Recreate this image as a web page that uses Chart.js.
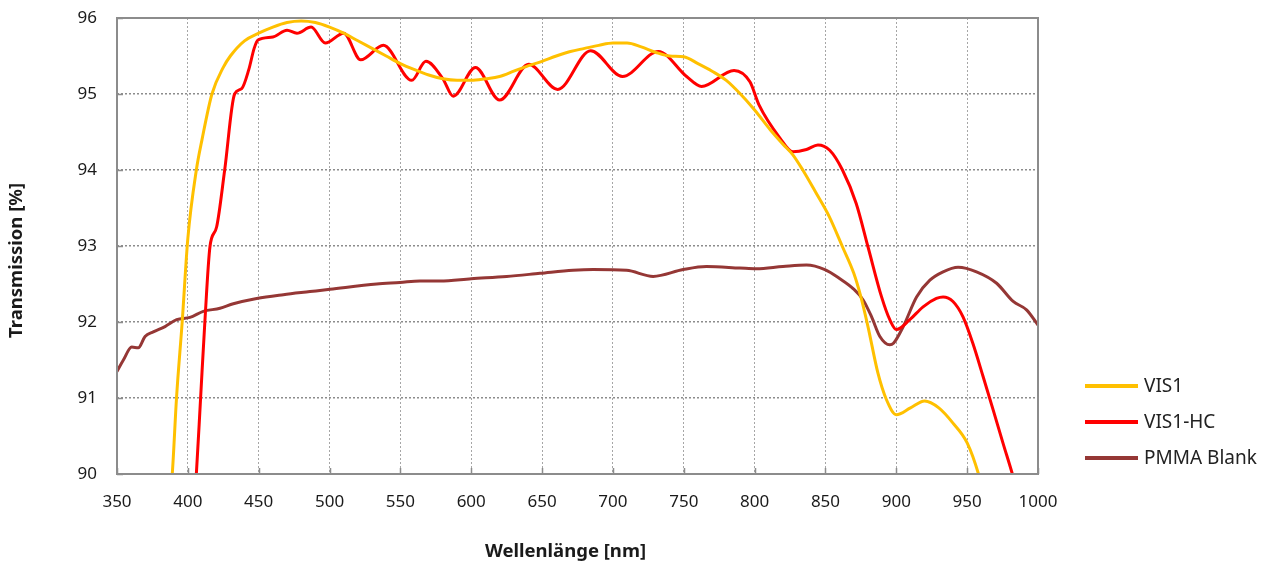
<!DOCTYPE html>
<html>
<head>
<meta charset="utf-8">
<script src="https://cdn.jsdelivr.net/npm/chart.js@4"></script>
<style>
    html, body { margin: 0; padding: 0; background: #fff; }
    #wrap { position: relative; width: 1265px; height: 564px; }
    #legend { position: absolute; left: 1085px; top: 367px; font-family: "Noto Sans", sans-serif; font-size: 19px; color: #222; }
    #legend div { height: 36px; line-height: 36px; white-space: nowrap; }
    #legend span.line { display: inline-block; width: 53px; height: 4px; margin-right: 6px; vertical-align: middle; position: relative; top: -1px; }
</style>
</head>
<body>
<div id="wrap">
    <canvas id="chart" width="1265" height="564"></canvas>
    <div id="legend"></div>
</div>
<script>
// wavelength [nm] and transmission [%]
let vis1Nm = [385, 389, 392, 396, 400, 406, 410, 417, 425, 430, 440, 450, 460, 470, 480, 490, 500, 510, 520, 530, 540, 550, 560, 570, 580, 590, 600, 610, 620, 630, 640, 650, 660, 670, 680, 690, 700, 710, 720, 730, 740, 750, 760, 770, 780, 790, 800, 811, 820, 827, 834, 843, 852.6, 862, 870, 875, 880, 887, 893, 900, 910, 920, 930, 940, 950, 958, 962];
let vis1T = [89.3, 90.0, 91.0, 92.0, 93.1, 94.0, 94.4, 95.0, 95.35, 95.5, 95.7, 95.8, 95.88, 95.94, 95.96, 95.94, 95.88, 95.8, 95.7, 95.6, 95.5, 95.4, 95.32, 95.25, 95.2, 95.18, 95.18, 95.2, 95.23, 95.3, 95.37, 95.43, 95.5, 95.56, 95.6, 95.64, 95.67, 95.67, 95.62, 95.55, 95.5, 95.49, 95.4, 95.3, 95.18, 95.0, 94.79, 94.53, 94.34, 94.2, 94.0, 93.71, 93.39, 92.99, 92.64, 92.33, 91.94, 91.33, 90.98, 90.78, 90.87, 90.96, 90.87, 90.67, 90.41, 90.0, 89.7];

let hcNm = [403, 406, 409, 412, 415.6, 420.3, 426, 433, 438, 443, 446.8, 449.5, 460, 470, 477, 487, 497, 510, 522, 538, 558, 568, 580, 587.3, 603, 620, 640.6, 661, 684.3, 706.7, 732, 752, 762.5, 785.5, 796.7, 803, 817.9, 827, 836.6, 844.7, 853, 862, 871.7, 880, 889.6, 895.4, 900.1, 909.5, 918.9, 928.3, 933, 940, 947, 954, 961.3, 968.4, 975.4, 982.5, 986];
let hcT = [89.3, 90.0, 91.0, 92.0, 92.99, 93.25, 94.0, 95.0, 95.07, 95.32, 95.6, 95.71, 95.75, 95.84, 95.8, 95.88, 95.67, 95.8, 95.45, 95.64, 95.18, 95.43, 95.2, 94.97, 95.35, 94.92, 95.39, 95.06, 95.57, 95.23, 95.56, 95.23, 95.1, 95.31, 95.16, 94.86, 94.42, 94.24, 94.27, 94.33, 94.26, 94.0, 93.56, 92.99, 92.33, 92.03, 91.9, 92.03, 92.2, 92.31, 92.33, 92.27, 92.07, 91.72, 91.28, 90.84, 90.4, 89.96, 89.7];

let pmmaNm = [350, 354.5, 360.4, 365, 369.8, 375.6, 383.9, 392.1, 401.5, 410.9, 422.7, 432.1, 448.6, 467.4, 486.2, 500.3, 533.3, 549.7, 563.8, 578, 600, 625, 648.5, 671.8, 686, 709.6, 728.4, 749.6, 766, 789.6, 801.3, 820, 836.6, 849.6, 860.2, 869.5, 876.6, 882.5, 888.4, 895.4, 898, 904.9, 914.3, 923.7, 933, 943.6, 956.6, 970.8, 982.5, 991.9, 1000];
let pmmaT = [91.35, 91.5, 91.67, 91.66, 91.81, 91.87, 91.94, 92.03, 92.06, 92.14, 92.18, 92.24, 92.31, 92.36, 92.4, 92.43, 92.5, 92.52, 92.54, 92.54, 92.57, 92.6, 92.64, 92.68, 92.69, 92.68, 92.6, 92.69, 92.73, 92.71, 92.7, 92.73, 92.75, 92.69, 92.57, 92.44, 92.29, 92.07, 91.81, 91.7, 91.72, 91.94, 92.33, 92.55, 92.66, 92.72, 92.66, 92.51, 92.27, 92.16, 91.96];

let seriesNames = ["VIS1", "VIS1-HC", "PMMA Blank"];
let seriesColors = ["#FFC000", "#FF0000", "#953735"];

let xTicks = [350, 400, 450, 500, 550, 600, 650, 700, 750, 800, 850, 900, 950, 1000];
let yTicks = [90, 91, 92, 93, 94, 95, 96];

function toPoints(xs, ys) {
    return xs.map(function(x, i) {
        return { x: x, y: ys[i] };
    });
}

let allNm = [vis1Nm, hcNm, pmmaNm];
let allT = [vis1T, hcT, pmmaT];

let datasets = seriesNames.map(function(name, i) {
    return {
        label: name,
        data: toPoints(allNm[i], allT[i]),
        borderColor: seriesColors[i],
        backgroundColor: seriesColors[i],
        borderWidth: 3,
        pointRadius: 0,
        tension: 0.4,
        cubicInterpolationMode: "monotone",
        fill: false
    };
});

// frame round the plot area, with short inner tick marks
let framePlugin = {
    id: "frame",
    afterDatasetsDraw: function(chart) {
        let a = chart.chartArea;
        let ctx = chart.ctx;
        let xs = chart.scales.x;
        let ys = chart.scales.y;
        ctx.save();
        ctx.strokeStyle = "#8c8c8c";
        ctx.lineWidth = 1.5;
        ctx.beginPath();
        xTicks.forEach(function(v) {
            let px = Math.round(xs.getPixelForValue(v)) + 0.5;
            ctx.moveTo(px, a.bottom);
            ctx.lineTo(px, a.bottom - 6);
        });
        yTicks.forEach(function(v) {
            let py = Math.round(ys.getPixelForValue(v)) + 0.5;
            ctx.moveTo(a.left, py);
            ctx.lineTo(a.left + 6, py);
        });
        ctx.stroke();
        ctx.lineWidth = 2;
        ctx.strokeRect(a.left, a.top, a.right - a.left, a.bottom - a.top);
        ctx.restore();
    }
};

Chart.defaults.font.family = "'Noto Sans', sans-serif";
Chart.defaults.color = "#1a1a1a";

let ctx = document.getElementById("chart").getContext("2d");
let chart = new Chart(ctx, {
    type: "line",
    data: { datasets: datasets },
    plugins: [framePlugin],
    options: {
        responsive: false,
        animation: false,
        layout: { padding: { top: 18, right: 227, left: 0, bottom: 0 } },
        plugins: {
            legend: { display: false },
            tooltip: { enabled: false }
        },
        scales: {
            x: {
                type: "linear",
                min: 350,
                max: 1000,
                afterBuildTicks: function(axis) {
                    axis.ticks = xTicks.map(function(v) { return { value: v }; });
                },
                afterFit: function(axis) { axis.height = 90; },
                grid: { color: "#a6a6a6", lineWidth: 1, drawTicks: false },
                border: { display: false, dash: [2, 2] },
                ticks: {
                    font: { size: 17 },
                    padding: 18,
                    maxRotation: 0,
                    callback: function(v) { return String(v); }
                },
                title: {
                    display: true,
                    text: "Wellenlänge [nm]     ",
                    font: { size: 18.5, weight: "bold" },
                    padding: { top: 0, bottom: 1 }
                }
            },
            y: {
                min: 90,
                max: 96,
                afterBuildTicks: function(axis) {
                    axis.ticks = yTicks.map(function(v) { return { value: v }; });
                },
                afterFit: function(axis) {
                    axis.width = 117;
                    axis.paddingTop = 0;
                    axis.paddingBottom = 0;
                },
                grid: { color: "#8c8c8c", lineWidth: 1.5, drawTicks: false },
                border: { display: false, dash: [2, 2] },
                ticks: { font: { size: 17 }, padding: 20 },
                title: {
                    display: true,
                    text: "Transmission [%]      ",
                    font: { size: 18.5, weight: "bold" },
                    padding: { top: 6, bottom: 0 }
                }
            }
        }
    }
});

// legend as html, built from the same names and colours
let legend = document.getElementById("legend");
seriesNames.forEach(function(name, i) {
    let row = document.createElement("div");
    let line = document.createElement("span");
    line.className = "line";
    line.style.background = seriesColors[i];
    row.appendChild(line);
    row.appendChild(document.createTextNode(name));
    legend.appendChild(row);
});
</script>
</body>
</html>
